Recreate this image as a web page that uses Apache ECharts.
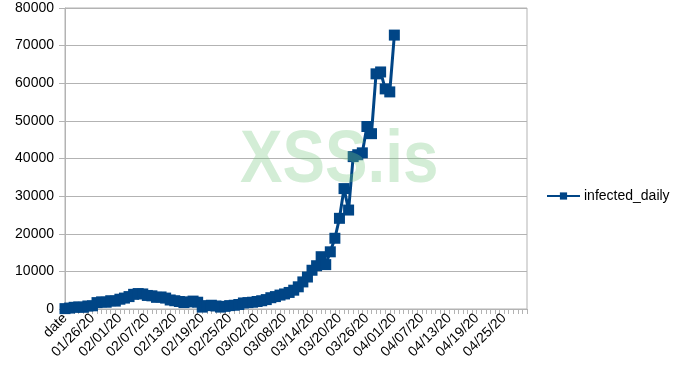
<!DOCTYPE html>
<html>
<head>
<meta charset="utf-8">
<script src="https://cdn.jsdelivr.net/npm/echarts@6/dist/echarts.min.js"></script>
<style>
html,body{margin:0;padding:0;background:#fff;}
#c{width:687px;height:387px;}
</style>
</head>
<body>
<div id="c"></div>
<script>
const categories = ["date",
"01/21/20","01/22/20","01/23/20","01/24/20","01/25/20","01/26/20","01/27/20","01/28/20","01/29/20","01/30/20","01/31/20",
"02/01/20","02/02/20","02/03/20","02/04/20","02/05/20","02/06/20","02/07/20","02/08/20","02/09/20","02/10/20","02/11/20","02/12/20",
"02/13/20","02/14/20","02/15/20","02/16/20","02/17/20","02/18/20","02/19/20","02/20/20","02/21/20","02/22/20","02/23/20","02/24/20",
"02/25/20","02/26/20","02/27/20","02/28/20","02/29/20","03/01/20","03/02/20","03/03/20","03/04/20","03/05/20","03/06/20","03/07/20",
"03/08/20","03/09/20","03/10/20","03/11/20","03/12/20","03/13/20","03/14/20","03/15/20","03/16/20","03/17/20","03/18/20","03/19/20",
"03/20/20","03/21/20","03/22/20","03/23/20","03/24/20","03/25/20","03/26/20","03/27/20","03/28/20","03/29/20","03/30/20","03/31/20",
"04/01/20","04/02/20","04/03/20","04/04/20","04/05/20","04/06/20","04/07/20","04/08/20","04/09/20","04/10/20","04/11/20","04/12/20",
"04/13/20","04/14/20","04/15/20","04/16/20","04/17/20","04/18/20","04/19/20","04/20/20","04/21/20","04/22/20","04/23/20","04/24/20",
"04/25/20","04/26/20","04/27/20","04/28/20","04/29/20","04/30/20"];

const infectedDaily = [
100, 250, 450, 550, 450, 800, 850, 1700, 1900, 1800, 2200, 2100,
2600, 2900, 3300, 3900, 4100, 4000, 3600, 3500, 3100, 3200, 2900, 2400,
2200, 2000, 1700, 1900, 2100, 1800, 500, 900, 1000, 800, 500, 700,
900, 1000, 1200, 1600, 1700, 1800, 2000, 2200, 2500, 3000, 3300, 3700,
4000, 4400, 5000, 5900, 7200, 8500, 10300, 11500, 13900, 11800, 15200, 18800,
24100, 32000, 26300, 40500, 41000, 41500, 48500, 46600, 62500, 63000, 58500, 57700,
72800,
null, null, null, null, null, null, null, null, null, null, null,
null, null, null, null, null, null, null, null, null, null, null, null,
null, null, null, null, null, null
];

const yTicks = { min: 0, max: 80000, interval: 10000 };
const seriesName = "infected_daily";
const watermark = "XSS.is";

const chart = echarts.init(document.getElementById('c'), null, {renderer: 'canvas'});
const gridCol = '#b3b3b3';
chart.setOption({
  animation: false,
  backgroundColor: '#fff',
  textStyle: { fontFamily: 'Liberation Sans, Arial, sans-serif' },
  grid: { left: 65, right: 160, top: 8, bottom: 78, show: true, borderColor: gridCol, borderWidth: 1, containLabel: false },
  xAxis: {
    type: 'category',
    data: categories,
    boundaryGap: false,
    axisLine: { show: true, lineStyle: { color: gridCol, width: 1 } },
    axisTick: { show: true, interval: 0, length: 5, lineStyle: { color: gridCol } },
    axisLabel: { interval: 5, rotate: 45, fontSize: 14, color: '#000', margin: 7, fontFamily: 'Liberation Sans' },
    splitLine: { show: false }
  },
  yAxis: {
    type: 'value',
    min: yTicks.min, max: yTicks.max, interval: yTicks.interval,
    axisLine: { show: true, lineStyle: { color: gridCol, width: 1 } },
    axisTick: { show: true, length: 6, lineStyle: { color: gridCol } },
    axisLabel: { fontSize: 14, color: '#000', margin: 11, fontFamily: 'Liberation Sans', formatter: function (v) { return String(v); } },
    splitLine: { show: true, lineStyle: { color: gridCol, width: 1 } }
  },
  legend: {
    show: true,
    orient: 'vertical',
    left: 541, top: 184,
    itemWidth: 33, itemHeight: 9,
    itemGap: 5,
    textStyle: { fontSize: 14, color: '#000', fontFamily: 'Liberation Sans', padding: [0, 0, 0, -1] },
    data: [{ name: seriesName }]
  },
  series: [{
    name: seriesName,
    type: 'line',
    data: infectedDaily,
    symbol: 'rect',
    symbolSize: 11,
    showAllSymbol: true,
    connectNulls: false,
    lineStyle: { color: '#004586', width: 3 },
    itemStyle: { color: '#004586' }
  }],
  graphic: [{
    type: 'text',
    x: 240, y: 124,
    scaleX: 0.85,
    z: 100,
    style: {
      text: watermark,
      fontSize: 75,
      fontWeight: 'bold',
      fontFamily: 'Liberation Sans',
      fill: 'rgba(120,200,130,0.33)',
      verticalAlign: 'top',
      align: 'left'
    }
  }]
});
</script>
</body>
</html>
